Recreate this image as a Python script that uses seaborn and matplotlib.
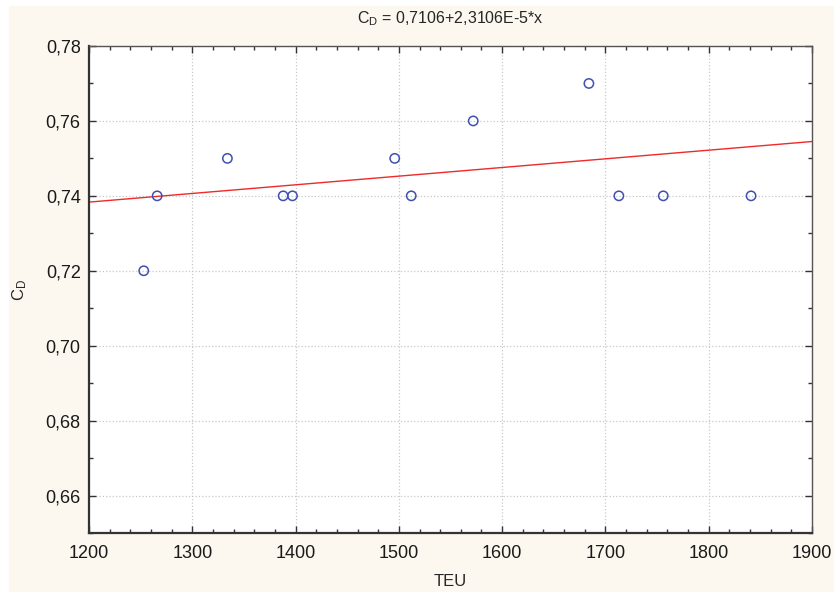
import matplotlib
matplotlib.use("Agg")
import matplotlib.pyplot as plt
import matplotlib.ticker as mticker
from matplotlib.patches import Rectangle
import numpy as np
import pandas as pd
import seaborn as sns

# Data
teu = [1253, 1266, 1334, 1388, 1397, 1496, 1512, 1572, 1684, 1713, 1756, 1841]
cd = [0.72, 0.74, 0.75, 0.74, 0.74, 0.75, 0.74, 0.76, 0.77, 0.74, 0.74, 0.74]
intercept = 0.7106
slope = 2.3106e-5

df = pd.DataFrame({"TEU": teu, "CD": cd})
fit_x = np.array([1200, 1900])
fit_df = pd.DataFrame({"TEU": fit_x, "CD": intercept + slope * fit_x})

sns.set_style("ticks")
plt.rcParams["font.family"] = ["Liberation Sans", "DejaVu Sans"]
plt.rcParams["mathtext.fontset"] = "custom"
plt.rcParams["mathtext.rm"] = "Liberation Sans"
plt.rcParams["mathtext.it"] = "Liberation Sans"

fig = plt.figure(figsize=(8.34, 5.92), dpi=100, facecolor="#fcf7ef")
# thin white margin at top and left, as in the screenshot
fig.patches.append(Rectangle((0, 1 - 6 / 592), 1, 6 / 592, transform=fig.transFigure,
                             facecolor="white", edgecolor="none", zorder=0))
fig.patches.append(Rectangle((0, 0), 9 / 834, 1, transform=fig.transFigure,
                             facecolor="white", edgecolor="none", zorder=0))

ax = fig.add_axes([89 / 834, 1 - 533 / 592, (812 - 89) / 834, (533 - 46) / 592])
ax.set_facecolor("white")

sns.lineplot(data=fit_df, x="TEU", y="CD", ax=ax, color="#ee2a2a", linewidth=1.0)
sns.scatterplot(data=df, x="TEU", y="CD", ax=ax, marker="o", s=45,
                facecolor="none", edgecolor="#4050b0", linewidth=1.1, zorder=3)

ax.set_xlim(1200, 1900)
ax.set_ylim(0.65, 0.78)
ax.xaxis.set_major_locator(mticker.MultipleLocator(100))
ax.xaxis.set_minor_locator(mticker.MultipleLocator(20))
ax.yaxis.set_major_locator(mticker.MultipleLocator(0.02))
ax.yaxis.set_minor_locator(mticker.MultipleLocator(0.01))
ax.yaxis.set_major_formatter(mticker.FuncFormatter(lambda v, p: f"{v:.2f}".replace(".", ",")))
ax.xaxis.set_major_formatter(mticker.FuncFormatter(lambda v, p: f"{v:.0f}"))

ax.tick_params(which="both", direction="in", top=True, right=True, colors="#333333",
               labelcolor="#1a1a1a", labelsize=13)
ax.tick_params(which="major", length=5, width=1)
ax.tick_params(which="minor", length=3, width=1)
ax.tick_params(axis="x", pad=9)
ax.tick_params(axis="y", pad=6)

ax.grid(True, which="major", linestyle=":", color="#c8c8c8", linewidth=0.9)
ax.set_axisbelow(True)

for side in ["bottom", "left"]:
    ax.spines[side].set_linewidth(1.6)
    ax.spines[side].set_color("#333333")
for side in ["top", "right"]:
    ax.spines[side].set_linewidth(1.0)
    ax.spines[side].set_color("#555555")

ax.set_xlabel("TEU", fontsize=12, labelpad=8)
ax.set_ylabel(r"C$_\mathregular{D}$", fontsize=12, labelpad=12)
ax.set_title(r"C$_\mathregular{D}$ = 0,7106+2,3106E-5*x", fontsize=11.5, pad=16)

fig.savefig("out.png", dpi=100, facecolor=fig.get_facecolor())
